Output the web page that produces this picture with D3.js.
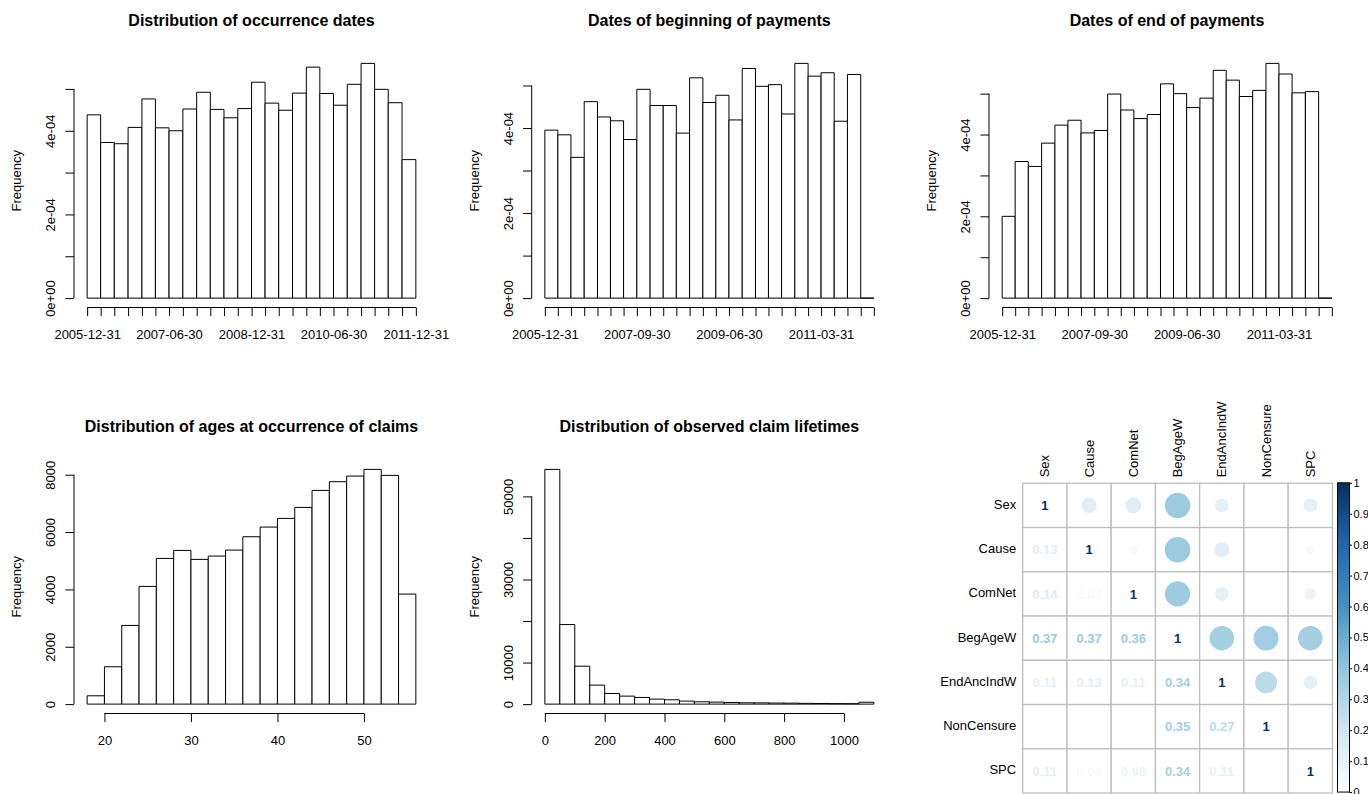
<!DOCTYPE html>
<html><head><meta charset="utf-8">
<script src="https://cdn.jsdelivr.net/npm/d3@7"></script>
<style>
body{margin:0;background:#fff;}
svg{display:block;font-family:"Liberation Sans",Arial,Helvetica,sans-serif;}
</style></head><body>
<svg id="chart" width="1368" height="794"></svg>
<script>
// ---------------- data ----------------
const occurrenceDensity = [4.38e-4,3.72e-4,3.69e-4,4.08e-4,4.76e-4,4.07e-4,4.00e-4,4.52e-4,4.92e-4,4.51e-4,4.31e-4,4.53e-4,5.16e-4,4.66e-4,4.49e-4,4.90e-4,5.52e-4,4.89e-4,4.61e-4,5.11e-4,5.61e-4,4.99e-4,4.67e-4,3.31e-4];
const beginDensity = [3.95e-4,3.84e-4,3.31e-4,4.62e-4,4.26e-4,4.17e-4,3.73e-4,4.91e-4,4.53e-4,4.53e-4,3.88e-4,5.18e-4,4.60e-4,4.77e-4,4.19e-4,5.40e-4,4.98e-4,5.02e-4,4.33e-4,5.52e-4,5.22e-4,5.30e-4,4.16e-4,5.26e-4,0];
const endDensity = [2.00e-4,3.34e-4,3.22e-4,3.79e-4,4.23e-4,4.35e-4,4.04e-4,4.10e-4,4.99e-4,4.60e-4,4.39e-4,4.49e-4,5.24e-4,5.00e-4,4.66e-4,4.89e-4,5.57e-4,5.33e-4,4.93e-4,5.08e-4,5.74e-4,5.48e-4,5.02e-4,5.05e-4,0];
const ageCounts = [290,1302,2744,4105,5081,5360,5047,5163,5372,5837,6174,6477,6860,7453,7756,7953,8186,7977,3837];
const lifetimeCounts = [56500,19150,9130,4570,2560,1920,1600,1200,1040,720,560,480,400,320,300,250,230,180,150,120,100,450];

const densityTicks = [0,1e-4,2e-4,3e-4,4e-4,5e-4];
const densityTickLabels = ["0e+00","","2e-04","","4e-04",""];
const ageYTicks = [0,2000,4000,6000,8000];
const ageYTickLabels = ["0","2000","4000","6000","8000"];
const ageXTicks = [20,30,40,50];
const lifeYTicks = [0,10000,20000,30000,40000,50000];
const lifeYTickLabels = ["0","10000","","30000","","50000"];
const lifeXTicks = [0,200,400,600,800,1000];
const occurrenceDateLabels = ["2005-12-31","2007-06-30","2008-12-31","2010-06-30","2011-12-31"];
const paymentDateLabels = ["2005-12-31","2007-09-30","2009-06-30","2011-03-31"];

const titles = ["Distribution of occurrence dates","Dates of beginning of payments","Dates of end of payments",
  "Distribution of ages at occurrence of claims","Distribution of observed claim lifetimes"];

const corrVars = ["Sex","Cause","ComNet","BegAgeW","EndAncIndW","NonCensure","SPC"];
const corrSex        = [1,0.13,0.14,0.37,0.11,0,0.11];
const corrCause      = [0.13,1,0.04,0.37,0.13,0.01,0.04];
const corrComNet     = [0.14,0.04,1,0.36,0.11,0.01,0.08];
const corrBegAgeW    = [0.37,0.37,0.36,1,0.34,0.35,0.34];
const corrEndAncIndW = [0.11,0.13,0.11,0.34,1,0.27,0.11];
const corrNonCensure = [0,0.01,0.01,0.35,0.27,1,0.01];
const corrSPC        = [0.11,0.04,0.08,0.34,0.11,0.01,1];
const corrMatrix = [corrSex,corrCause,corrComNet,corrBegAgeW,corrEndAncIndW,corrNonCensure,corrSPC];
const colorbarTicks = [0,0.1,0.2,0.3,0.4,0.5,0.6,0.7,0.8,0.9,1];

// ---------------- helpers ----------------
const svg = d3.select("#chart");
const TICK = 8.6;
const fmtDate = d3.utcFormat("%Y-%m-%d");
function quarterEnds(n){
  const base = new Date(Date.UTC(2006,0,1));
  return d3.range(n+1).map(k => d3.utcDay.offset(d3.utcMonth.offset(base,3*k),-1));
}

function drawHist(o){
  const g = svg.append("g");
  const b = o.breaks;
  const x0 = +b[0], x1 = +b[b.length-1], span = x1-x0;
  const x = o.time
    ? d3.scaleUtc().domain([new Date(x0-0.04*span), new Date(x1+0.04*span)]).range([o.left,o.right])
    : d3.scaleLinear().domain([x0-0.04*span, x1+0.04*span]).range([o.left,o.right]);
  const ymax = d3.max(o.values);
  const y = d3.scaleLinear().domain([-0.04*ymax, 1.04*ymax]).range([o.bottom,o.top]);

  g.append("g").selectAll("path").data(o.values).join("path")
    .attr("d",(v,i)=>{const xa=x(b[i]),xb=x(b[i+1]),ya=y(0),yb=y(v);return `M${xa},${ya}V${yb}H${xb}V${ya}Z`;})
    .attr("fill","#fff").attr("stroke","#000").attr("stroke-width",1);

  const ga = g.append("g").attr("transform",`translate(${o.left},0)`)
    .call(d3.axisLeft(y).tickValues(o.yTicks).tickSize(TICK).tickFormat((d,i)=>o.yLabels[i]));
  ga.select(".domain").remove();
  ga.append("line").attr("x1",0).attr("x2",0)
    .attr("y1",y(o.yTicks[0])).attr("y2",y(o.yTicks[o.yTicks.length-1])).attr("stroke","#000");
  ga.attr("font-size",13).attr("font-family",null);
  ga.selectAll(".tick line").attr("stroke","#000");
  ga.selectAll(".tick text").attr("x",0).attr("dy",null).attr("fill","#000")
    .attr("text-anchor","middle").attr("transform","translate(-19,0) rotate(-90)");

  const xt = o.xTicks;
  const gx = g.append("g").attr("transform",`translate(0,${o.bottom})`)
    .call(d3.axisBottom(x).tickValues(xt).tickSize(TICK).tickFormat(o.xFormat));
  gx.select(".domain").remove();
  gx.append("line").attr("y1",0).attr("y2",0)
    .attr("x1",x(xt[0])).attr("x2",x(xt[xt.length-1])).attr("stroke","#000");
  gx.attr("font-size",13).attr("font-family",null);
  gx.selectAll(".tick line").attr("stroke","#000");
  gx.selectAll(".tick text").attr("y",31).attr("dy",null).attr("fill","#000");

  g.append("text").attr("x",(o.left+o.right)/2).attr("y",o.top-28)
    .attr("text-anchor","middle").attr("font-weight","bold").attr("font-size",16).text(o.title);
  g.append("text").attr("text-anchor","middle").attr("font-size",13)
    .attr("transform",`translate(${o.left-53},${(o.top+o.bottom)/2}) rotate(-90)`).text("Frequency");
}

const cols = [{left:74,right:429},{left:531.7,right:887},{left:989,right:1345}];
const rowTop = {top:54,bottom:307.5}, rowBot = {top:460,bottom:713.5};

const occBreaks = quarterEnds(occurrenceDensity.length);
const payBreaks = quarterEnds(beginDensity.length);

drawHist({...cols[0],...rowTop,time:true,breaks:occBreaks,values:occurrenceDensity,
  yTicks:densityTicks,yLabels:densityTickLabels,xTicks:occBreaks,
  xFormat:d=>{const s=fmtDate(d);return occurrenceDateLabels.includes(s)?s:"";},title:titles[0]});
drawHist({...cols[1],...rowTop,time:true,breaks:payBreaks,values:beginDensity,
  yTicks:densityTicks,yLabels:densityTickLabels,xTicks:payBreaks,
  xFormat:d=>{const s=fmtDate(d);return paymentDateLabels.includes(s)?s:"";},title:titles[1]});
drawHist({...cols[2],...rowTop,time:true,breaks:payBreaks,values:endDensity,
  yTicks:densityTicks,yLabels:densityTickLabels,xTicks:payBreaks,
  xFormat:d=>{const s=fmtDate(d);return paymentDateLabels.includes(s)?s:"";},title:titles[2]});
drawHist({...cols[0],...rowBot,time:false,breaks:d3.range(18,57,2),values:ageCounts,
  yTicks:ageYTicks,yLabels:ageYTickLabels,xTicks:ageXTicks,xFormat:d3.format("d"),title:titles[3]});
drawHist({...cols[1],...rowBot,time:false,breaks:d3.range(0,1101,50),values:lifetimeCounts,
  yTicks:lifeYTicks,yLabels:lifeYTickLabels,xTicks:lifeXTicks,xFormat:d3.format("d"),title:titles[4]});

// ---------------- correlation plot ----------------
(function(){
  const n = corrVars.length;
  const gxL = 1022.7, gyT = 483.3, cell = 44.25;
  const bx = d3.scaleBand().domain(corrVars).range([gxL, gxL+n*cell]);
  const by = d3.scaleBand().domain(corrVars).range([gyT, gyT+n*cell]);
  const color = d3.scaleLinear().domain([0,0.2,0.4,0.6,0.8,1])
    .range(["#FFFFFF","#D1E5F0","#92C5DE","#4393C3","#2166AC","#053061"]);
  const rad = d3.scaleSqrt().domain([0,1]).range([0,cell*0.475]);
  const cg = svg.append("g");
  const cells = [];
  corrMatrix.forEach((row,i)=>row.forEach((v,j)=>cells.push({i,j,v})));
  cg.append("g").selectAll("rect").data(cells).join("rect")
    .attr("x",d=>bx(corrVars[d.j])).attr("y",d=>by(corrVars[d.i]))
    .attr("width",bx.bandwidth()).attr("height",by.bandwidth())
    .attr("fill","#fff").attr("stroke","#BEBEBE").attr("stroke-width",1.3);
  cg.append("g").selectAll("circle").data(cells.filter(d=>d.j>d.i)).join("circle")
    .attr("cx",d=>bx(corrVars[d.j])+cell/2).attr("cy",d=>by(corrVars[d.i])+cell/2)
    .attr("r",d=>rad(Math.abs(d.v))).attr("fill",d=>color(Math.abs(d.v)));
  cg.append("g").selectAll("text").data(cells.filter(d=>d.j<=d.i)).join("text")
    .attr("x",d=>bx(corrVars[d.j])+cell/2).attr("y",d=>by(corrVars[d.i])+cell/2+4.6)
    .attr("text-anchor","middle").attr("font-size",13).attr("font-weight","bold")
    .attr("fill",d=>color(Math.abs(d.v))).text(d=>String(+d.v.toFixed(2)));
  cg.append("g").selectAll("text").data(corrVars).join("text")
    .attr("x",gxL-6.5).attr("y",d=>by(d)+cell/2+3.5).attr("text-anchor","end")
    .attr("font-size",13).attr("fill","#000").text(d=>d);
  cg.append("g").selectAll("text").data(corrVars).join("text")
    .attr("transform",d=>`translate(${bx(d)+cell/2+4.6},${gyT-6}) rotate(-90)`)
    .attr("text-anchor","start").attr("font-size",13).attr("fill","#000").text(d=>d);
  const defs = svg.append("defs");
  const grad = defs.append("linearGradient").attr("id","cbar").attr("x1",0).attr("y1",1).attr("x2",0).attr("y2",0);
  color.domain().forEach(v=>grad.append("stop").attr("offset",v).attr("stop-color",color(v)));
  const cbY = d3.scaleLinear().domain([0,1]).range([gyT+n*cell-1, gyT-0.5]);
  const cbx = 1337.5, cbw = 12;
  cg.append("rect").attr("x",cbx).attr("y",cbY(1)).attr("width",cbw).attr("height",cbY(0)-cbY(1))
    .attr("fill","url(#cbar)").attr("stroke","#000").attr("stroke-width",1);
  const cax = cg.append("g").attr("transform",`translate(${cbx+cbw},0)`)
    .call(d3.axisRight(cbY).tickValues(colorbarTicks).tickSize(2.5).tickPadding(1.5).tickFormat(d=>String(d)));
  cax.select(".domain").remove();
  cax.attr("font-size",11).attr("font-family",null);
  cax.selectAll(".tick line").attr("stroke","#000");
  cax.selectAll(".tick text").attr("fill","#000");
})();
</script>
</body></html>
